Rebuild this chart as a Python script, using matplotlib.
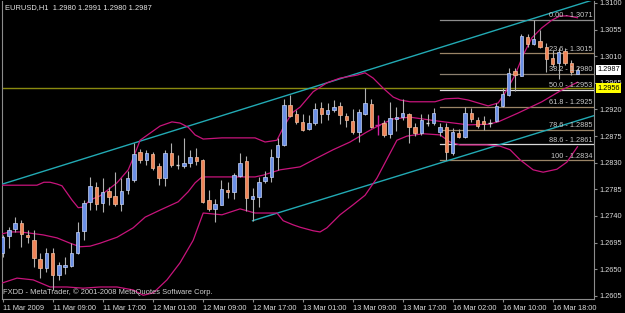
import matplotlib
matplotlib.use('Agg')
import matplotlib.pyplot as plt
from matplotlib.patches import Rectangle
import numpy as np

W, H = 625, 313
plt.rcParams['font.family'] = ['Liberation Sans', 'DejaVu Sans']

# ---------------- data ----------------
x_labels = ["11 Mar 2009", "11 Mar 09:00", "11 Mar 17:00", "12 Mar 01:00", "12 Mar 09:00",
            "12 Mar 17:00", "13 Mar 01:00", "13 Mar 09:00", "13 Mar 17:00", "16 Mar 02:00",
            "16 Mar 10:00", "16 Mar 18:00"]
x_label_bars = [0, 8, 16, 24, 32, 40, 48, 56, 64, 72, 80, 88]
price_ticks = [1.3100, 1.3055, 1.3010, 1.2965, 1.2920, 1.2875, 1.2830, 1.2785,
               1.2740, 1.2695, 1.2650, 1.2605]

opens = [1.2677, 1.2706, 1.2718, 1.2728, 1.2708, 1.2699, 1.2667, 1.2652, 1.2677, 1.2640,
         1.2654, 1.2655, 1.2677, 1.2715, 1.2764, 1.2789, 1.2762, 1.2782, 1.2774, 1.2760,
         1.2784, 1.2801, 1.2848, 1.2835, 1.2845, 1.2824, 1.2804, 1.2846, 1.2826, 1.2825,
         1.2830, 1.2840, 1.2835, 1.2767, 1.2752, 1.2759, 1.2784, 1.2781, 1.2808, 1.2833,
         1.2769, 1.2772, 1.2799, 1.2806, 1.2840, 1.2860, 1.2928, 1.2912, 1.2899, 1.2887,
         1.2897, 1.2922, 1.2912, 1.2919, 1.2926, 1.2909, 1.2901, 1.2882, 1.2912, 1.2929,
         1.2894, 1.2897, 1.2879, 1.2904, 1.2907, 1.2912, 1.2890, 1.2880, 1.2897, 1.2897,
         1.2882, 1.2890, 1.2846, 1.2880, 1.2873, 1.2914, 1.2902, 1.2901, 1.2897, 1.2901,
         1.2926, 1.2944, 1.2985, 1.2977, 1.3042, 1.3031, 1.3036, 1.3026, 1.3007, 1.2999,
         1.3019, 1.2999, 1.2980]
highs = [1.2708, 1.2721, 1.2738, 1.2733, 1.2716, 1.2716, 1.2677, 1.2686, 1.2686, 1.2662,
         1.2671, 1.2694, 1.2730, 1.2767, 1.2806, 1.2797, 1.2804, 1.2789, 1.2814, 1.2804,
         1.2816, 1.2863, 1.2853, 1.2852, 1.2848, 1.2830, 1.2852, 1.2863, 1.2843, 1.2872,
         1.2852, 1.2855, 1.2836, 1.2784, 1.2769, 1.2801, 1.2797, 1.2813, 1.2846, 1.2841,
         1.2787, 1.2806, 1.2816, 1.2853, 1.2872, 1.2938, 1.2944, 1.2919, 1.2912, 1.2911,
         1.2931, 1.2933, 1.2931, 1.2936, 1.2933, 1.2914, 1.2921, 1.2921, 1.2956, 1.2938,
         1.2911, 1.2902, 1.2933, 1.2924, 1.2938, 1.2914, 1.2897, 1.2912, 1.2912, 1.2922,
         1.2897, 1.2897, 1.2889, 1.2887, 1.2924, 1.2922, 1.2907, 1.2909, 1.2904, 1.2931,
         1.2956, 1.2990, 1.2990, 1.3048, 1.3048, 1.3071, 1.3054, 1.3032, 1.3020, 1.3024,
         1.3024, 1.3004, 1.2991]
lows = [1.2671, 1.2686, 1.2713, 1.2688, 1.2694, 1.2654, 1.2635, 1.2645, 1.2615, 1.2632,
        1.2642, 1.2654, 1.2676, 1.2699, 1.2750, 1.2750, 1.2747, 1.2759, 1.2757, 1.2748,
        1.2777, 1.2797, 1.2830, 1.2826, 1.2818, 1.2792, 1.2791, 1.2823, 1.2819, 1.2821,
        1.2823, 1.2826, 1.2762, 1.2748, 1.2730, 1.2758, 1.2770, 1.2769, 1.2806, 1.2748,
        1.2732, 1.2755, 1.2796, 1.2797, 1.2818, 1.2859, 1.2907, 1.2895, 1.2884, 1.2886,
        1.2894, 1.2897, 1.2902, 1.2916, 1.2895, 1.2890, 1.2879, 1.2865, 1.2911, 1.2889,
        1.2877, 1.2873, 1.2872, 1.2884, 1.2902, 1.2863, 1.2875, 1.2877, 1.2892, 1.2894,
        1.2875, 1.2834, 1.2843, 1.2872, 1.2872, 1.2899, 1.2889, 1.2885, 1.2890, 1.2899,
        1.2924, 1.2943, 1.2951, 1.2976, 1.3026, 1.3029, 1.3024, 1.2983, 1.2992, 1.2971,
        1.2995, 1.2978, 1.2980]
closes = [1.2704, 1.2716, 1.2728, 1.2710, 1.2704, 1.2669, 1.2652, 1.2677, 1.2640, 1.2657,
          1.2657, 1.2677, 1.2713, 1.2762, 1.2791, 1.2760, 1.2781, 1.2772, 1.2760, 1.2782,
          1.2804, 1.2845, 1.2835, 1.2846, 1.2821, 1.2804, 1.2846, 1.2826, 1.2825, 1.2830,
          1.2840, 1.2833, 1.2764, 1.2752, 1.2760, 1.2786, 1.2781, 1.2809, 1.2830, 1.2770,
          1.2774, 1.2797, 1.2806, 1.2840, 1.2860, 1.2928, 1.2909, 1.2899, 1.2885, 1.2897,
          1.2921, 1.2912, 1.2919, 1.2924, 1.2911, 1.2902, 1.2882, 1.2916, 1.2931, 1.2890,
          1.2894, 1.2877, 1.2906, 1.2907, 1.2914, 1.2890, 1.2880, 1.2902, 1.2898, 1.2914,
          1.2890, 1.2848, 1.2882, 1.2873, 1.2914, 1.2904, 1.2892, 1.2895, 1.2896, 1.2926,
          1.2946, 1.2982, 1.2978, 1.3044, 1.3031, 1.3039, 1.3026, 1.3005, 1.2997, 1.3017,
          1.2999, 1.2983, 1.2987]

# Bollinger bands (bar position, price)
bb_upper_x = [0, 5.5, 6.6, 7.6, 8.7, 9.5, 10.3, 11.1, 12.1, 12.9, 14, 15.6, 18.3, 20.1, 20.9,
              22, 23.6, 25.2, 27.1, 28.4, 29.7, 30.8, 32.1, 35.1, 40.4, 42, 43.9, 44.9, 46.3,
              47.6, 49.7, 51.9, 54, 56.7, 58, 59.3, 60.9, 62.5, 63.6, 65.2, 69.2, 70.8, 72.9,
              74.5, 76.1, 77.7, 79.3, 80.4, 82, 83.3, 84.7, 86.3, 87.9, 89.2, 90.5, 92]
bb_upper = [1.2792, 1.2792, 1.2797, 1.2797, 1.2794, 1.2791, 1.2779, 1.2767, 1.2754, 1.2755,
            1.2767, 1.2774, 1.2796, 1.2818, 1.2838, 1.2868, 1.2880, 1.2892, 1.2899, 1.2897,
            1.2890, 1.2877, 1.2870, 1.2872, 1.2872, 1.2865, 1.2868, 1.2889, 1.2914, 1.2924,
            1.2950, 1.2965, 1.2973, 1.2978, 1.2982, 1.2973, 1.2956, 1.2941, 1.2936, 1.2933,
            1.2933, 1.2938, 1.2939, 1.2936, 1.2931, 1.2926, 1.2931, 1.2948, 1.2978, 1.3012,
            1.3041, 1.3058, 1.3071, 1.3078, 1.3078, 1.3075]
bb_mid_x = [0, 1.2, 2.8, 4.4, 6.5, 8.7, 10.8, 12.4, 14, 15.6, 18.3, 20.9, 22.8, 25.2, 28.1,
            29.7, 30.8, 31.9, 36.4, 40.4, 41.7, 44.4, 47.6, 50.3, 52.9, 55.6, 58.3, 60.4,
            62.5, 65.2, 69.2, 74.5, 77.7, 79.3, 82.5, 86.3, 89.5, 92]
bb_mid = [1.2710, 1.2713, 1.2713, 1.2711, 1.2708, 1.2703, 1.2694, 1.2688, 1.2689, 1.2694,
          1.2704, 1.2720, 1.2738, 1.2750, 1.2764, 1.2781, 1.2796, 1.2806, 1.2806, 1.2806,
          1.2809, 1.2818, 1.2823, 1.2838, 1.2852, 1.2865, 1.2882, 1.2894, 1.2904, 1.2907,
          1.2901, 1.2894, 1.2895, 1.2899, 1.2914, 1.2933, 1.2953, 1.2966]
bb_lower_x = [0, 2.3, 4.9, 7.6, 10.3, 12.9, 15.6, 18.3, 20.9, 22.5, 24.1, 26.3, 28.4, 30.5,
              32.1, 35.1, 38, 40.4, 43.9, 44.9, 46.5, 47.6, 49.7, 50.8, 51.9, 54, 56.1, 58,
              59.9, 62, 63.1, 64.7, 67.3, 70, 71.6, 73.2, 77.5, 79.6, 81.2, 82.8, 84.9, 86.5,
              88.7, 90.3, 92]
bb_lower = [1.2627, 1.2635, 1.2632, 1.2620, 1.2620, 1.2618, 1.2620, 1.2620, 1.2615, 1.2606,
            1.2610, 1.2632, 1.2661, 1.2699, 1.2745, 1.2742, 1.2752, 1.2745, 1.2745, 1.2732,
            1.2725, 1.2721, 1.2715, 1.2713, 1.2720, 1.2742, 1.2759, 1.2775, 1.2804, 1.2846,
            1.2868, 1.2875, 1.2879, 1.2877, 1.2865, 1.2860, 1.2860, 1.2858, 1.2852, 1.2835,
            1.2818, 1.2814, 1.2819, 1.2831, 1.2857]

# trend channel anchors (bar, price)
chan_upper = [(0, 1.2794), (92, 1.3097)]
chan_lower = [(40, 1.2732), (92, 1.2901)]

# fibonacci retracement
fib_start_bar = 70
fib_levels = ["0.00", "23.6", "38.2", "50.0", "61.8", "78.6", "88.6", "100"]
fib_prices = [1.3071, 1.3015, 1.2980, 1.2953, 1.2925, 1.2885, 1.2861, 1.2834]

hline_price = 1.2956
last_price = 1.2987
marker_bar = 60

header = "EURUSD,H1  1.2980 1.2991 1.2980 1.2987"
footer = "FXDD - MetaTrader, \u00a9 2001-2008 MetaQuotes Software Corp."

# ---------------- drawing ----------------
fig = plt.figure(figsize=(W / 100, H / 100), dpi=100, facecolor='black')
ax = fig.add_axes([2.3 / W, 1 - 299 / H, (594 - 2.3) / W, (299 - 1) / H])
ax.set_facecolor('black')
XL = (-0.05, 94.64)
ax.set_xlim(*XL)
ax.set_ylim(1.25997, 1.31033)

# horizontal line
ax.axhline(hline_price, color='#8a8a10', lw=1.0, zorder=2)

# fibonacci levels
fib_colors = ['#8c8c8c', '#9a8466', '#8c8070', '#e0e0e0', '#9a8466', '#9a8466', '#d8d8d8', '#9a8466']
for lab, p, c in zip(fib_levels, fib_prices, fib_colors):
    ax.plot([fib_start_bar, XL[1]], [p, p], color=c, lw=0.9, zorder=2)
    ax.text(XL[1] - 0.3, p + 0.00012, f"{lab} - {p:.4f}", ha='right', va='bottom',
            fontsize=5.3, color='#c8c8c8', zorder=6)

# channel rays
for (b0, p0), (b1, p1) in [chan_upper, chan_lower]:
    slope = (p1 - p0) / (b1 - b0)
    xs = np.array([b0, XL[1]])
    ax.plot(xs, p0 + slope * (xs - b0), color='#22aab4', lw=1.0, zorder=3)

# bollinger bands
bb_col = '#c8147c'
ax.plot(bb_upper_x, bb_upper, color=bb_col, lw=0.9, zorder=4)
ax.plot(bb_mid_x, bb_mid, color=bb_col, lw=0.9, zorder=4)
ax.plot(bb_lower_x, bb_lower, color=bb_col, lw=0.9, zorder=4)

# candles
bw = 0.55
for i, (o, h, l, c) in enumerate(zip(opens, highs, lows, closes)):
    if i == marker_bar:
        ax.vlines(i, l, h, color='#d020a0', lw=1.0, zorder=5)
        ax.hlines(o, i - 0.35, i + 0.35, color='#d020a0', lw=1.0, zorder=5)
        continue
    ax.vlines(i, l, h, color='#b0b0b0', lw=0.8, zorder=5)
    if abs(c - o) < 0.00015:
        ax.hlines((o + c) / 2, i - bw / 2, i + bw / 2, color='#d8d8d8', lw=1.0, zorder=5)
        continue
    if c > o:
        fc, ec = '#6b8fe6', '#c8d4f4'
    else:
        fc, ec = '#f08458', '#f6c0a0'
    ax.add_patch(Rectangle((i - bw / 2, min(o, c)), bw, abs(c - o), facecolor=fc,
                           edgecolor=ec, lw=0.5, zorder=5))

# axes styling
for s in ['left', 'bottom', 'right']:
    ax.spines[s].set_color('#8c8c8c')
    ax.spines[s].set_linewidth(0.8)
ax.spines['top'].set_visible(False)
ax.yaxis.tick_right()
ax.set_yticks(price_ticks)
ax.set_yticklabels([f"{p:.4f}" for p in price_ticks])
ax.tick_params(axis='y', colors='#8c8c8c', labelcolor='#dcdcdc', labelsize=5.3,
               length=2.5, width=0.8, pad=1.5)
ax.set_xticks(x_label_bars)
ax.set_xticklabels(x_labels, ha='left')
ax.tick_params(axis='x', colors='#8c8c8c', labelcolor='#dcdcdc', labelsize=5.3,
               length=2.5, width=0.8, pad=1.5)

# price boxes on the right
for p, bg in [(last_price, 'white'), (hline_price, '#ffff00')]:
    ax.annotate(f"{p:.4f}", xy=(1.0, p), xycoords=('axes fraction', 'data'),
                xytext=(2.2, 0), textcoords='offset points', ha='left', va='center',
                fontsize=5.3, color='black', annotation_clip=False, zorder=10,
                bbox=dict(boxstyle='square,pad=0.2', fc=bg, ec='none'))

fig.text(5 / W, 1 - 8 / H, header, color='#e6e6e6', fontsize=5.4, va='center', ha='left')
fig.text(3 / W, 1 - 292 / H, footer, color='#d0d0d0', fontsize=5.4, va='center', ha='left')

fig.savefig('out.png', dpi=100, facecolor='black')
